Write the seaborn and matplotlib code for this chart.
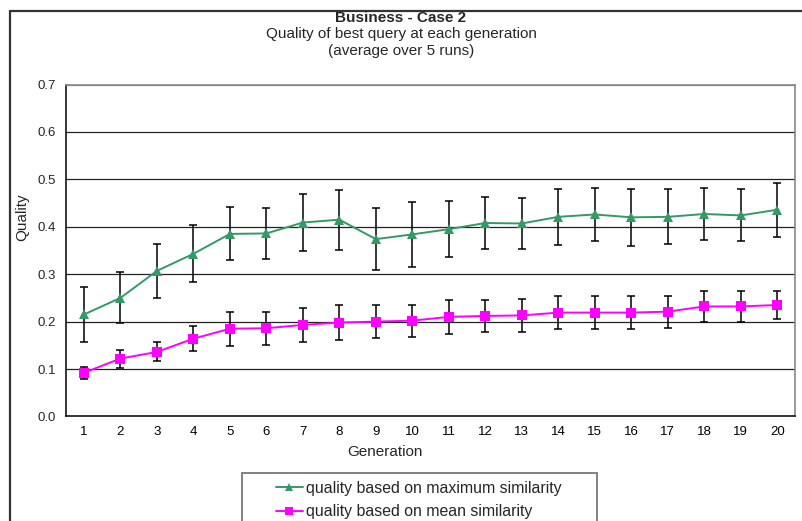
import matplotlib
matplotlib.use("Agg")
import matplotlib.pyplot as plt
from matplotlib.patches import Rectangle
from matplotlib.lines import Line2D
import numpy as np
import pandas as pd
import seaborn as sns

# Generations and averaged quality values (5 runs) with their spread
generations = list(range(1, 21))
max_sim_mean = [0.215, 0.250, 0.307, 0.343, 0.385, 0.386, 0.409, 0.415, 0.374, 0.384,
                0.395, 0.408, 0.407, 0.421, 0.426, 0.420, 0.421, 0.427, 0.424, 0.436]
max_sim_err = [0.058, 0.054, 0.057, 0.060, 0.056, 0.053, 0.061, 0.063, 0.066, 0.068,
               0.059, 0.054, 0.054, 0.059, 0.056, 0.060, 0.058, 0.054, 0.055, 0.057]
mean_sim_mean = [0.092, 0.122, 0.136, 0.164, 0.185, 0.186, 0.193, 0.198, 0.200, 0.202,
                 0.210, 0.212, 0.213, 0.219, 0.219, 0.219, 0.221, 0.232, 0.232, 0.235]
mean_sim_err = [0.013, 0.019, 0.020, 0.026, 0.036, 0.035, 0.035, 0.036, 0.035, 0.034,
                0.036, 0.034, 0.034, 0.035, 0.035, 0.035, 0.034, 0.032, 0.032, 0.029]
series_labels = ["quality based on maximum similarity", "quality based on mean similarity"]
y_ticks = [0.0, 0.1, 0.2, 0.3, 0.4, 0.5, 0.6, 0.7]

sns.set_theme(style="white")
plt.rcParams["font.family"] = ["Liberation Sans", "DejaVu Sans"]

GREEN = "#339966"
MAGENTA = "#FF00FF"
W, H = 802, 521


def fx(px):
    return px / W


def fy(py):
    return 1 - py / H


df = pd.DataFrame({
    "Generation": generations * 2,
    "Quality": max_sim_mean + mean_sim_mean,
    "err": max_sim_err + mean_sim_err,
    "series": [series_labels[0]] * 20 + [series_labels[1]] * 20,
})

fig = plt.figure(figsize=(W / 100, H / 100), dpi=100)
fig.patch.set_facecolor("white")

# outer chart-area frame (top and left edges)
fig.add_artist(Line2D([fx(10), 1.0], [fy(11), fy(11)], transform=fig.transFigure,
                      color="#333333", lw=1.6))
fig.add_artist(Line2D([fx(10), fx(10)], [0, fy(11)], transform=fig.transFigure,
                      color="#333333", lw=1.6))

ax = fig.add_axes([fx(65.7), fy(416.4), fx(795.5 - 65.7), (416.4 - 84.6) / H])

# horizontal gridlines
for yv in y_ticks[1:]:
    ax.axhline(yv, color="#222222" if yv < 0.65 else "#888888", lw=0.9, zorder=1)

# error bars
for mean, err in [(max_sim_mean, max_sim_err), (mean_sim_mean, mean_sim_err)]:
    ax.errorbar(generations, mean, yerr=err, fmt="none", ecolor="black",
                elinewidth=1.1, capsize=2.8, capthick=1.1, zorder=2)

sns.lineplot(data=df, x="Generation", y="Quality", hue="series", style="series",
             palette=[GREEN, MAGENTA], markers=["^", "s"], dashes=False,
             markersize=7, markeredgewidth=0, linewidth=1.4, ax=ax, zorder=3,
             legend=False)

ax.set_xlim(0.5, 20.5)
ax.set_ylim(0, 0.7)
ax.set_yticks(y_ticks)
ax.set_yticklabels([f"{v:.1f}" for v in y_ticks], fontsize=9.5)
ax.set_xticks(generations)
ax.set_xticklabels([str(g) for g in generations], fontsize=9.5)
ax.set_xticks(np.arange(0.5, 21, 1), minor=True)
ax.tick_params(axis="x", which="major", length=0, pad=7, colors="black")
ax.tick_params(axis="x", which="minor", length=4, width=1, color="black", direction="out")
ax.tick_params(axis="y", which="major", length=4, width=1, color="black", direction="out", pad=3)
ax.set_xlabel("")
ax.set_ylabel("")

for side in ["left", "bottom"]:
    ax.spines[side].set_color("black")
    ax.spines[side].set_linewidth(1.1)
for side in ["right", "top"]:
    ax.spines[side].set_color("#888888")
    ax.spines[side].set_linewidth(1.2)

# axis titles
fig.text(fx(385), fy(452), "Generation", ha="center", va="center", fontsize=11)
fig.text(fx(22), fy(217), "Quality", ha="center", va="center", rotation=90, fontsize=11)

# chart titles
fig.text(0.5, fy(17.5), "Business - Case 2", ha="center", va="center",
         fontsize=11, fontweight="bold")
fig.text(0.5, fy(34), "Quality of best query at each generation", ha="center",
         va="center", fontsize=11)
fig.text(0.5, fy(50.5), "(average over 5 runs)", ha="center", va="center", fontsize=11)

# legend box
fig.add_artist(Rectangle((fx(242), -0.05), fx(597 - 242), (521 - 473) / H + 0.05,
                         transform=fig.transFigure, facecolor="white", edgecolor="#777777",
                         lw=1.3))
handles = [Line2D([], [], color=GREEN, marker="^", markersize=6, markeredgewidth=0, lw=1.4),
           Line2D([], [], color=MAGENTA, marker="s", markersize=6, markeredgewidth=0, lw=1.4)]
fig.legend(handles, series_labels, loc="upper left",
           bbox_to_anchor=(fx(276), fy(481)), frameon=False, fontsize=11.4,
           handlelength=1.7, handletextpad=0.2, labelspacing=0.52, borderaxespad=0,
           borderpad=0)

fig.savefig("out.png", dpi=100)
